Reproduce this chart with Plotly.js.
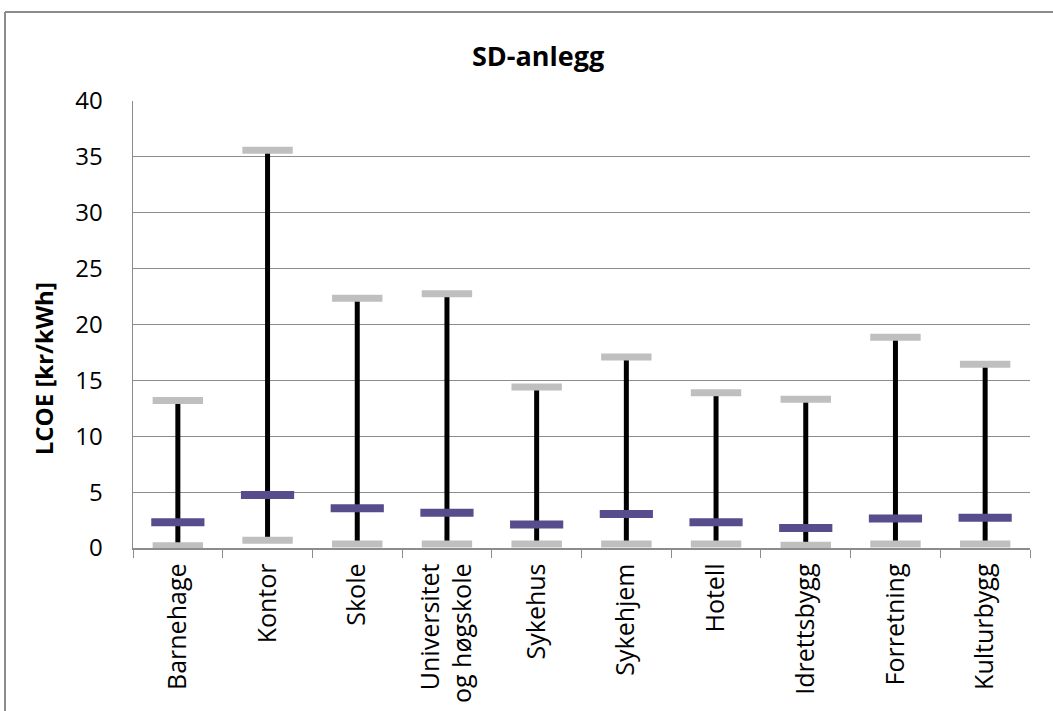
<!DOCTYPE html>
<html>
<head>
<meta charset="utf-8">
<script src="https://cdn.plot.ly/plotly-3.0.1.min.js"></script>
<style>html,body{margin:0;padding:0;background:#fff;}#chart{width:1053px;height:711px;}</style>
</head>
<body>
<div id="chart"></div>
<script>
var categories = ["Barnehage", "Kontor", "Skole", "Universitet<br>og høgskole", "Sykehus", "Sykehjem", "Hotell", "Idrettsbygg", "Forretning", "Kulturbygg"];
var highValues = [13.2, 35.6, 22.35, 22.75, 14.4, 17.1, 13.9, 13.3, 18.85, 16.45];
var midValues  = [2.3, 4.75, 3.55, 3.15, 2.1, 3.05, 2.3, 1.8, 2.65, 2.7];
var lowValues  = [0.2, 0.7, 0.35, 0.35, 0.35, 0.35, 0.35, 0.25, 0.35, 0.35];
var yTicks = [0, 5, 10, 15, 20, 25, 30, 35, 40];

var lineX = [], lineY = [];
for (var i = 0; i < categories.length; i++) {
  lineX.push(categories[i], categories[i], null);
  lineY.push(lowValues[i], highValues[i], null);
}

var font = "Open Sans, Liberation Sans, sans-serif";
var traces = [
  {type: "scatter", mode: "lines", x: lineX, y: lineY, line: {color: "#000", width: 5}, hoverinfo: "skip", showlegend: false, connectgaps: false},
  {type: "scatter", mode: "markers", x: categories, y: highValues, marker: {symbol: "line-ew", size: 36, line: {color: "#bfbfbf", width: 7}}, showlegend: false},
  {type: "scatter", mode: "markers", x: categories, y: lowValues, marker: {symbol: "line-ew", size: 36, line: {color: "#bfbfbf", width: 7}}, showlegend: false},
  {type: "scatter", mode: "markers", x: categories, y: midValues, marker: {symbol: "line-ew", size: 38, line: {color: "#574c8c", width: 8}}, showlegend: false}
];

var layout = {
  width: 1053, height: 711,
  margin: {l: 133, r: 23, t: 101, b: 163},
  paper_bgcolor: "#fff", plot_bgcolor: "#fff",
  font: {family: font, color: "#000"},
  title: {text: "<b>SD-anlegg</b>", font: {size: 27, family: font}, x: 0.511, xanchor: "center", y: 0.921, yanchor: "middle"},
  xaxis: {
    type: "category", tickangle: -90, tickfont: {size: 25},
    showline: true, linecolor: "#8c8c8c", linewidth: 1.5,
    ticks: "outside", tickson: "boundaries", ticklen: 8, tickcolor: "#8c8c8c",
    ticklabelstandoff: 4,
    showgrid: false, range: [-0.5, 9.5], zeroline: false, automargin: false
  },
  yaxis: {
    range: [0, 40], tickvals: yTicks, ticktext: yTicks.map(String), tickfont: {size: 24},
    showline: true, linecolor: "#8c8c8c", linewidth: 1.5,
    showgrid: true, gridcolor: "#8c8c8c", gridwidth: 1.2, zeroline: false,
    ticks: "", ticklabelstandoff: 24,
    automargin: false
  },
  annotations: [
    {text: "<b>LCOE [kr/kWh]</b>", xref: "paper", yref: "paper", x: -0.1003, y: 0.40, textangle: -90, showarrow: false, font: {size: 24}, xanchor: "center", yanchor: "middle"}
  ],
  shapes: [
    {type: "line", xref: "paper", yref: "paper", x0: -0.1427, x1: -0.1427, y0: -0.5, y1: 1.199, line: {color: "#8c8c8c", width: 2}},
    {type: "line", xref: "paper", yref: "paper", x0: -0.1427, x1: 1.2, y0: 1.199, y1: 1.199, line: {color: "#8c8c8c", width: 2}}
  ]
};

Plotly.newPlot("chart", traces, layout, {displayModeBar: false, staticPlot: true});
</script>
</body>
</html>
